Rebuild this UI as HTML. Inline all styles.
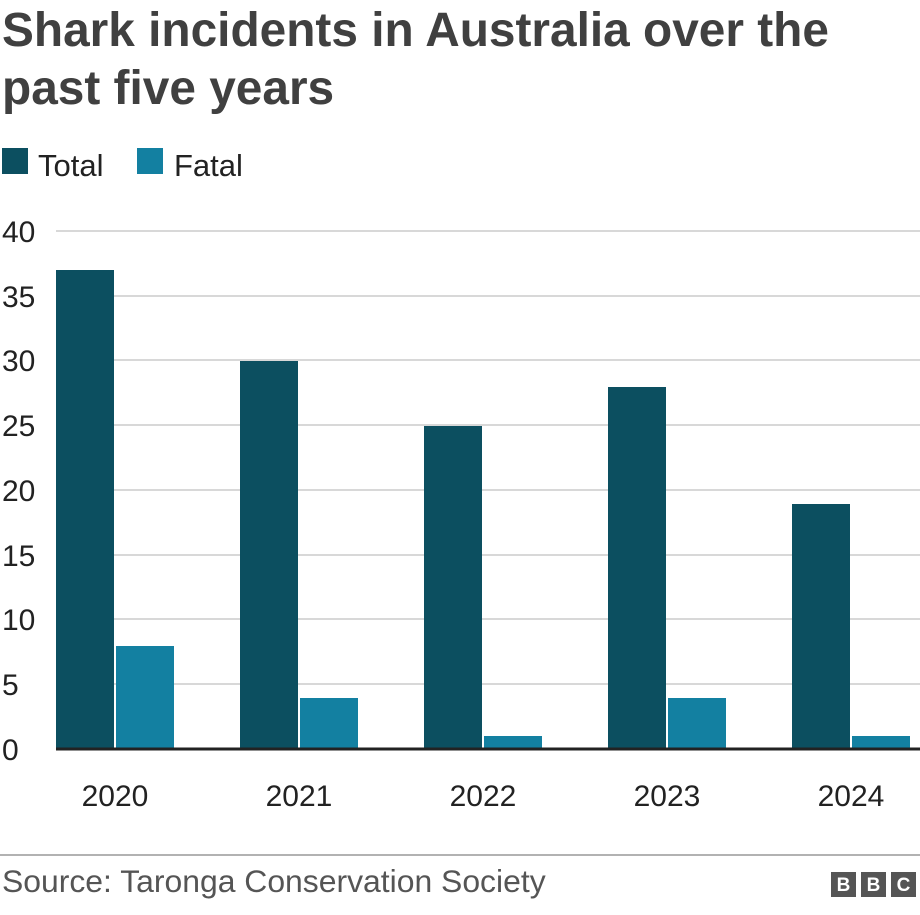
<!DOCTYPE html>
<html><head><style>
body{margin:0;width:920px;height:910px;background:#fff;font-family:"Liberation Sans",Arial,sans-serif;overflow:hidden}
</style></head><body>
<svg width="920" height="910" xmlns="http://www.w3.org/2000/svg" font-family="Liberation Sans, Arial, sans-serif">
<text x="2" y="46" font-size="47.8" font-weight="bold" fill="#404040">Shark incidents in Australia over the</text>
<text x="2" y="104" font-size="47.8" font-weight="bold" fill="#404040">past five years</text>
<rect x="2" y="148" width="26" height="26" fill="#0c4f60"/>
<text x="38" y="176" font-size="31" fill="#222">Total</text>
<rect x="137" y="148" width="26" height="26" fill="#1380a1"/>
<text x="174" y="176" font-size="31" fill="#222">Fatal</text>
<g stroke="#ccc" stroke-width="1.5">
<line x1="56" x2="920" y1="231" y2="231"/><line x1="56" x2="920" y1="296" y2="296"/>
<line x1="56" x2="920" y1="360" y2="360"/><line x1="56" x2="920" y1="425" y2="425"/>
<line x1="56" x2="920" y1="490" y2="490"/><line x1="56" x2="920" y1="555" y2="555"/>
<line x1="56" x2="920" y1="619" y2="619"/><line x1="56" x2="920" y1="684" y2="684"/>
</g>
<g font-size="30" fill="#222">
<text x="2" y="242">40</text><text x="2" y="307">35</text><text x="2" y="371">30</text>
<text x="2" y="436">25</text><text x="2" y="501">20</text><text x="2" y="566">15</text>
<text x="2" y="630">10</text><text x="2" y="695">5</text><text x="2" y="760">0</text>
</g>
<g fill="#0c4f60">
<rect x="56" y="270" width="58" height="479"/>
<rect x="240" y="361" width="58" height="388"/>
<rect x="424" y="426" width="58" height="323"/>
<rect x="608" y="387" width="58" height="362"/>
<rect x="792" y="504" width="58" height="245"/>
</g>
<g fill="#1380a1">
<rect x="116" y="646" width="58" height="103"/>
<rect x="300" y="698" width="58" height="51"/>
<rect x="484" y="736" width="58" height="13"/>
<rect x="668" y="698" width="58" height="51"/>
<rect x="852" y="736" width="58" height="13"/>
</g>
<line x1="56" x2="920" y1="749" y2="749" stroke="#222" stroke-width="3"/>
<g font-size="30" fill="#222" text-anchor="middle">
<text x="115" y="806">2020</text><text x="299" y="806">2021</text><text x="483" y="806">2022</text>
<text x="667" y="806">2023</text><text x="851" y="806">2024</text>
</g>
<line x1="0" x2="920" y1="855" y2="855" stroke="#999" stroke-width="1.5"/>
<text x="2" y="892" font-size="31.9" fill="#555">Source: Taronga Conservation Society</text>
<g fill="#555"><rect x="831" y="872" width="25" height="25"/><rect x="861" y="872" width="25" height="25"/><rect x="891" y="872" width="25" height="25"/></g>
<g fill="#fff" font-size="19" font-weight="bold" text-anchor="middle">
<text x="843.5" y="891">B</text><text x="873.5" y="891">B</text><text x="903.5" y="891">C</text></g>
</svg>
</body></html>
